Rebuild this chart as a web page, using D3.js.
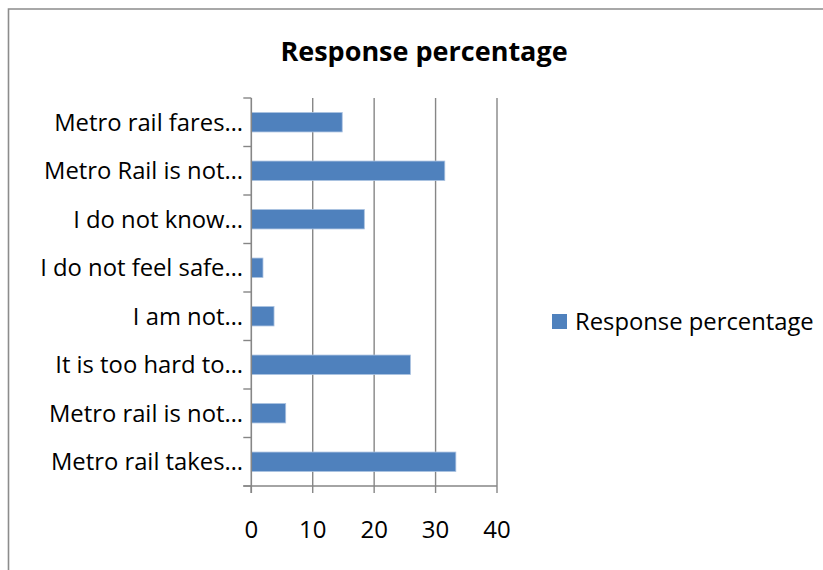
<!DOCTYPE html>
<html>
<head>
<meta charset="utf-8">
<script src="https://cdn.jsdelivr.net/npm/d3@7"></script>
<style>
  html, body { margin: 0; padding: 0; background: #fff; }
  svg { display: block; }
  text { font-family: "Open Sans", "Liberation Sans", sans-serif; fill: #000; }
</style>
</head>
<body>
<svg id="chart" width="823" height="570"></svg>
<script>
// Survey: reasons given, response percentage
const categories = [
  "Metro rail fares…",
  "Metro Rail is not…",
  "I do not know…",
  "I do not feel safe…",
  "I am not…",
  "It is too hard to…",
  "Metro rail is not…",
  "Metro rail takes…"
];
const values = [14.8, 31.5, 18.4, 1.9, 3.7, 25.9, 5.6, 33.3];
const xTicks = [0, 10, 20, 30, 40];
const seriesName = "Response percentage";
const chartTitle = "Response percentage";

const svg = d3.select("#chart");
const W = 823, H = 570;
const plot = { left: 251.3, right: 497, top: 98, bottom: 486 };
const barColor = "#4f81bd";
const gridColor = "#868686";

// Chart frame
svg.append("path")
  .attr("d", `M8.5,${H + 2} L8.5,9 L${W + 2},9`)
  .attr("fill", "none")
  .attr("stroke", "#8c8c8c")
  .attr("stroke-width", 1.6);

// Title
svg.append("text")
  .attr("x", 424)
  .attr("y", 61)
  .attr("text-anchor", "middle")
  .attr("font-weight", "bold")
  .attr("font-size", 27)
  .text(chartTitle);

const x = d3.scaleLinear().domain([0, 40]).range([plot.left, plot.right]);
const y = d3.scaleBand().domain(categories).range([plot.top, plot.bottom]).paddingInner(0.6).paddingOuter(0.3);
const yOuter = d3.scaleBand().domain(categories).range([plot.top, plot.bottom]);

// Vertical gridlines
svg.append("g")
  .selectAll("line")
  .data(xTicks.filter(d => d > 0))
  .join("line")
  .attr("x1", d => x(d)).attr("x2", d => x(d))
  .attr("y1", plot.top).attr("y2", plot.bottom)
  .attr("stroke", gridColor)
  .attr("stroke-width", 1.4);

// Bars
svg.append("g")
  .selectAll("rect")
  .data(categories.map((c, i) => ({ c, v: values[i] })))
  .join("rect")
  .attr("x", x(0))
  .attr("y", d => y(d.c))
  .attr("width", d => x(d.v) - x(0))
  .attr("height", y.bandwidth())
  .attr("fill", barColor)
  .attr("stroke", "#a9c1e0")
  .attr("stroke-width", 0.8);

// Category axis: line plus tick marks at band boundaries
const yAxisG = svg.append("g");
yAxisG.append("line")
  .attr("x1", x(0)).attr("x2", x(0))
  .attr("y1", plot.top).attr("y2", plot.bottom + 7)
  .attr("stroke", gridColor).attr("stroke-width", 1.6);
const bounds = categories.map(c => yOuter(c)).concat([plot.bottom]);
yAxisG.selectAll("line.tick")
  .data(bounds)
  .join("line")
  .attr("class", "tick")
  .attr("x1", x(0) - 8).attr("x2", x(0))
  .attr("y1", d => d).attr("y2", d => d)
  .attr("stroke", gridColor).attr("stroke-width", 1.4);
yAxisG.selectAll("text")
  .data(categories)
  .join("text")
  .attr("x", 243)
  .attr("y", d => yOuter(d) + yOuter.bandwidth() / 2)
  .attr("dy", "0.35em")
  .attr("text-anchor", "end")
  .attr("font-size", 23.8)
  .text(d => d);

// Value axis
const xAxisG = svg.append("g");
xAxisG.append("line")
  .attr("x1", x(0) - 8).attr("x2", x(40))
  .attr("y1", plot.bottom).attr("y2", plot.bottom)
  .attr("stroke", gridColor).attr("stroke-width", 1.6);
xAxisG.selectAll("line.tick")
  .data(xTicks)
  .join("line")
  .attr("class", "tick")
  .attr("x1", d => x(d)).attr("x2", d => x(d))
  .attr("y1", plot.bottom).attr("y2", plot.bottom + 7)
  .attr("stroke", gridColor).attr("stroke-width", 1.4);
xAxisG.selectAll("text")
  .data(xTicks)
  .join("text")
  .attr("x", d => x(d))
  .attr("y", 530)
  .attr("dy", "0.35em")
  .attr("text-anchor", "middle")
  .attr("font-size", 24)
  .text(d => d);

// Legend
const lg = svg.append("g").attr("transform", "translate(552,314)");
lg.append("rect").attr("width", 15).attr("height", 15).attr("fill", barColor);
lg.append("text")
  .attr("x", 23).attr("y", 7.5).attr("dy", "0.35em")
  .attr("font-size", 23.8)
  .text(seriesName);
</script>
</body>
</html>
